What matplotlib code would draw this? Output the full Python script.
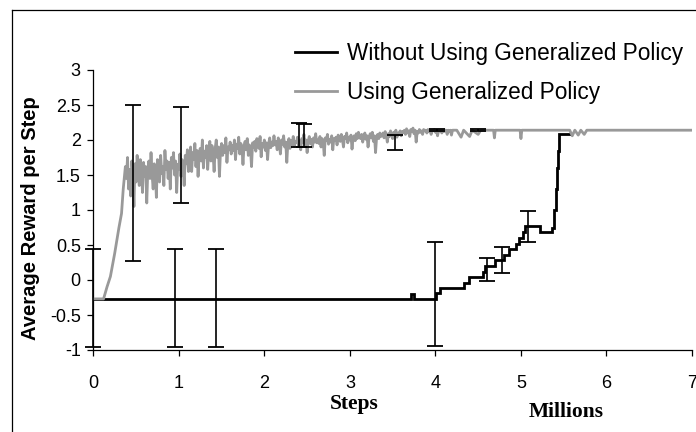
import numpy as np
import matplotlib
matplotlib.use("Agg")
import matplotlib.pyplot as plt
from matplotlib.lines import Line2D

plt.rcParams['font.family'] = ['Liberation Sans', 'DejaVu Sans']

W, H = 696, 432

# black series: without generalized policy (step curve)
without_x = [0.0, 3.72, 3.75, 4.01, 4.05, 4.33, 4.39, 4.56, 4.58, 4.70, 4.80,
             4.86, 4.94, 4.98, 5.02, 5.05, 5.22, 5.36, 5.39, 5.41, 5.42, 5.43,
             5.44, 5.45, 5.57]
without_y = [-0.27, -0.20, -0.27, -0.18, -0.12, -0.04, 0.04, 0.12, 0.20, 0.29, 0.36,
             0.44, 0.52, 0.60, 0.68, 0.77, 0.69, 0.75, 1.00, 1.30, 1.60, 1.85,
             2.00, 2.08, 2.09]

# grey series: using generalized policy
# start + rise
gray_head_x = [0.0, 0.12, 0.16, 0.20, 0.25, 0.30, 0.33, 0.35]
gray_head_y = [-0.27, -0.27, -0.10, 0.05, 0.38, 0.75, 0.95, 1.30]
# noisy part, sampled every 0.0125 from 0.375
gray_noise_y = [
    1.62, 1.45, 1.75, 1.30, 1.58, 1.20, 1.70, 1.52, 1.05, 1.66, 1.40, 1.78, 1.55, 1.35, 1.72, 1.60, 1.25, 1.68, 1.48, 1.62,
    1.10, 1.58, 1.70, 1.45, 1.82, 1.50, 1.30, 1.66, 1.55, 1.18, 1.72, 1.60, 1.40, 1.78, 1.52, 1.62, 1.35, 1.85, 1.58, 1.70,
    1.45, 1.68, 1.30, 1.75, 1.60, 1.82, 1.50, 1.70, 1.25, 1.65, 1.58, 1.80, 1.48, 1.72, 1.62, 1.35, 1.78, 1.66, 1.86, 1.55,
    1.68, 1.90, 1.55, 1.82, 1.72, 1.95, 1.62, 1.85, 1.48, 1.78, 1.88, 1.70, 2.00, 1.60, 1.84, 1.75, 1.92, 1.58, 1.86, 1.98,
    1.70, 1.92, 1.80, 1.55, 1.88, 2.00, 1.75, 1.90, 1.48, 1.85, 1.95, 1.78, 1.92, 1.82, 2.03, 1.68, 1.90, 1.86, 1.97, 1.80,
    1.92, 1.85, 2.00, 1.72, 1.94, 1.88, 2.04, 1.80, 1.95, 1.90, 1.65, 1.92, 1.98, 1.86, 2.02, 1.78, 1.93, 1.88, 1.62, 1.96,
    1.90, 1.98, 1.84, 2.02, 1.93, 1.88, 2.05, 1.76, 1.95, 1.90, 2.00, 1.85, 1.96, 1.72, 1.94, 2.03, 1.89, 1.97, 1.92, 2.06,
    1.93, 1.98, 1.86, 2.03, 1.95, 1.80, 2.00, 1.94, 2.06, 1.90, 1.97, 1.68, 1.96, 2.02, 1.88, 1.99, 1.93, 2.05, 1.91, 1.98,
    1.96, 2.04, 1.92, 1.99, 1.86, 2.02, 1.97, 2.08, 1.94, 2.00, 1.82, 1.98, 2.05, 1.95, 2.01, 1.90, 2.03, 1.97, 2.09, 1.96,
    2.00, 1.95, 2.05, 1.90, 2.02, 1.98, 1.78, 2.03, 1.99, 2.08, 1.94, 2.01, 1.97, 2.06, 1.86, 2.02, 1.99, 2.04, 1.93, 2.07,
    2.03, 1.98, 2.08, 2.01, 1.90, 2.05, 2.02, 2.10, 1.96, 2.04, 2.00, 2.07, 1.87, 2.03, 2.06, 1.99, 2.09, 2.02, 2.11, 2.04,
    2.02, 2.08, 1.97, 2.05, 2.10, 2.01, 2.06, 1.90, 2.04, 2.09, 2.03, 2.11, 1.98, 2.06, 1.82, 2.04, 2.08, 2.02, 2.10, 2.05,
    2.06, 2.10, 2.03, 2.12, 2.07, 1.97, 2.09, 2.05, 2.13, 2.08, 2.02, 2.11, 2.07, 2.14, 2.04, 2.10, 2.08, 2.13, 2.06, 2.12,
    2.11, 2.14, 2.08, 2.16, 2.10, 2.13, 2.05, 2.15, 2.12, 2.17, 2.09, 2.14, 1.97, 2.12, 2.10, 2.15, 2.11, 2.13, 2.08, 2.15,
    2.13, 2.14, 2.10, 2.15, 2.12, 2.14, 2.08, 2.14, 2.13, 2.15, 2.11, 2.14, 2.06, 2.14, 2.13, 2.14, 2.10, 2.14, 2.12, 2.14,
    2.14, 2.08, 2.14, 2.12, 2.14, 2.07, 2.14,
]
gray_noise_step = 0.0125
gray_tail_x = [4.25, 4.30, 4.33, 4.40, 4.43, 4.50, 4.53, 4.68, 4.69, 4.70,
               4.99, 5.00, 5.01, 5.57, 5.60, 5.63, 5.67, 5.70, 5.74, 5.77, 7.0]
gray_tail_y = [2.14, 2.04, 2.14, 2.05, 2.14, 2.08, 2.14, 2.14, 2.03, 2.14,
               2.14, 2.02, 2.14, 2.14, 2.06, 2.14, 2.07, 2.14, 2.08, 2.14, 2.14]

# error bars (x, low, high)
err_x = [0.0, 0.46, 0.95, 1.03, 1.435, 2.41, 2.46, 3.53, 4.0, 4.02, 4.5, 4.6, 4.78, 5.08]
err_lo = [-0.95, 0.27, -0.95, 1.10, -0.95, 1.90, 1.90, 1.86, -0.94, 2.13, 2.13, -0.02, 0.10, 0.55]
err_hi = [0.45, 2.50, 0.45, 2.47, 0.45, 2.25, 2.23, 2.07, 0.54, 2.16, 2.16, 0.31, 0.47, 0.98]

x_ticks = [0, 1, 2, 3, 4, 5, 6, 7]
y_ticks = [-1, -0.5, 0, 0.5, 1, 1.5, 2, 2.5, 3]
y_labels = ['-1', '-0.5', '0', '0.5', '1', '1.5', '2', '2.5', '3']

noise_x = 0.375 + gray_noise_step * np.arange(len(gray_noise_y))
gray_x = np.concatenate([gray_head_x, noise_x, gray_tail_x])
gray_y = np.concatenate([gray_head_y, gray_noise_y, gray_tail_y])

fig = plt.figure(figsize=(W / 100, H / 100), dpi=100)
ax = fig.add_axes([93.3 / W, 1 - 350 / H, (692 - 93.3) / W, 280 / H])

ax.plot(without_x, without_y, color='black', lw=2.0, drawstyle='steps-post',
        solid_joinstyle='miter', label='Without Using Generalized Policy', zorder=2)
ax.plot(gray_x, gray_y, color='#999999', lw=2.0, label='Using Generalized Policy', zorder=3)

err_c = (np.array(err_lo) + np.array(err_hi)) / 2
err_h = (np.array(err_hi) - np.array(err_lo)) / 2
ax.errorbar(err_x, err_c, yerr=err_h, fmt='none', ecolor='black', elinewidth=1.2,
            capsize=5.5, capthick=1.3, zorder=4, clip_on=False)

ax.set_xlim(0, 7)
ax.set_ylim(-1, 3)
ax.set_xticks(x_ticks)
ax.set_yticks(y_ticks)
ax.set_yticklabels(y_labels)
for s in ['top', 'right']:
    ax.spines[s].set_visible(False)
for s in ['left', 'bottom']:
    ax.spines[s].set_linewidth(0.9)
ax.tick_params(axis='y', direction='out', length=4, width=0.9, pad=5, labelsize=13)
ax.tick_params(axis='x', direction='out', length=4, width=0.9, pad=14, labelsize=13)

leg = ax.legend(loc='upper left', bbox_to_anchor=(295 / W, 1 - 42 / H),
                bbox_transform=fig.transFigure, frameon=False, fontsize=16.3,
                borderaxespad=0, borderpad=0, handlelength=1.86, handletextpad=0.44,
                labelspacing=0.7)

fig.text(30 / W, 1 - 218 / H, 'Average Reward per Step', rotation=90, ha='center',
         va='center', fontsize=14.5, fontweight='bold')
fig.text(354 / W, 1 - 404 / H, 'Steps', ha='center', va='center', fontsize=15.5,
         fontweight='bold', family='Liberation Serif')
fig.text(566 / W, 1 - 412 / H, 'Millions', ha='center', va='center', fontsize=15.5,
         fontweight='bold', family='Liberation Serif')

# outer frame (left and top edges visible)
fig.add_artist(Line2D([12 / W, 12 / W], [0, 1 - 10 / H], transform=fig.transFigure,
                      color='black', lw=0.9))
fig.add_artist(Line2D([12 / W, 1], [1 - 10 / H, 1 - 10 / H], transform=fig.transFigure,
                      color='black', lw=0.9))

fig.savefig('out.png', dpi=100)
